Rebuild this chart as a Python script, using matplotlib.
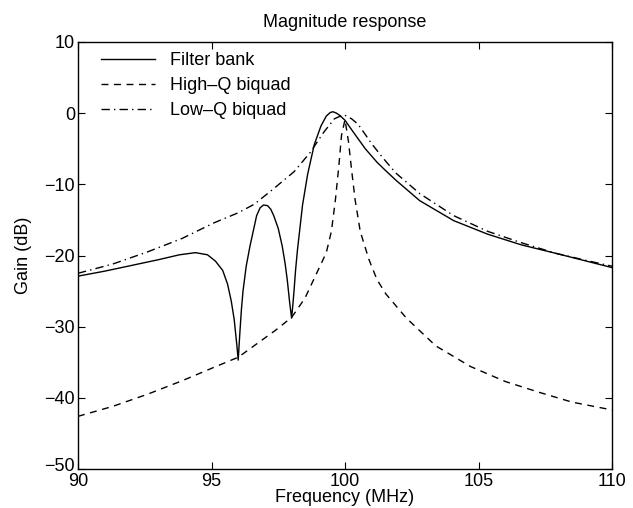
import matplotlib
matplotlib.use("Agg")
import matplotlib.pyplot as plt
import matplotlib.transforms as mtransforms

plt.rcParams['font.family'] = ['Liberation Sans', 'DejaVu Sans']

# Filter bank (solid)
fb_freq = [90.0, 91.0, 92.0, 93.0, 93.8, 94.4, 94.85, 95.15, 95.42, 95.6, 95.74, 95.85,
           95.95, 96.0, 96.06, 96.12, 96.18, 96.3, 96.44, 96.69, 96.82, 96.95, 97.1, 97.22,
           97.33, 97.5, 97.65, 97.76, 97.84, 97.93, 98.0, 98.05, 98.09, 98.15, 98.22, 98.41,
           98.6, 98.85, 99.1, 99.3, 99.45, 99.55, 99.68, 99.8, 100.0, 100.3, 100.76, 101.2,
           101.53, 101.9, 102.8, 104.07, 105.34, 106.6, 107.9, 109.16, 110.0]
fb_gain = [-22.9, -22.2, -21.4, -20.6, -19.9, -19.6, -19.9, -20.8, -22.1, -24.0, -26.4, -29.0,
           -32.6, -34.7, -31.0, -27.6, -25.0, -21.5, -18.7, -14.4, -13.3, -12.9, -13.0, -13.5,
           -14.4, -16.2, -18.7, -21.2, -23.5, -26.7, -28.8, -26.8, -25.0, -22.0, -19.2, -12.9,
           -8.6, -4.4, -1.8, -0.4, 0.1, 0.2, 0.0, -0.3, -1.0, -2.6, -5.0, -6.9,
           -8.1, -9.4, -12.3, -15.1, -17.0, -18.5, -19.7, -20.9, -21.7]

# High-Q biquad (dashed)
hq_freq = [90.0, 91.3, 92.6, 93.9, 95.1, 96.0, 96.7, 97.4, 98.0, 98.5, 99.05, 99.3,
           99.49, 99.64, 99.77, 99.87, 100.0, 100.13, 100.26, 100.38, 100.57, 100.89,
           101.2, 101.53, 102.3, 103.4, 104.7, 106.0, 107.25, 108.5, 110.0]
hq_gain = [-42.6, -41.2, -39.5, -37.6, -35.7, -34.3, -32.4, -30.5, -28.7, -26.0, -21.6, -19.6,
           -16.6, -12.2, -7.4, -3.1, -0.9, -4.0, -8.4, -12.2, -16.6, -20.5,
           -23.4, -25.4, -28.8, -32.7, -35.6, -37.7, -39.2, -40.6, -41.7]

# Low-Q biquad (dash-dot)
lq_freq = [90.0, 91.3, 92.6, 93.9, 95.1, 96.0, 96.6, 97.3, 98.1, 98.7, 99.2, 99.6,
           99.95, 100.25, 100.5, 100.76, 101.0, 101.4, 101.9, 102.8, 104.07, 105.34,
           106.6, 107.9, 109.16, 110.0]
lq_gain = [-22.5, -21.2, -19.5, -17.6, -15.4, -14.0, -12.8, -10.7, -8.2, -5.5, -2.7, -0.8,
           -0.2, -0.8, -1.6, -3.0, -4.3, -6.2, -8.4, -11.3, -14.4, -16.6,
           -18.2, -19.7, -20.8, -21.5]

labels = ['Filter bank', 'High\u2013Q biquad', 'Low\u2013Q biquad']
xticks = [90, 95, 100, 105, 110]
yticks = [-50, -40, -30, -20, -10, 0, 10]

fig = plt.figure(figsize=(6.33, 5.08), dpi=100)
ax = fig.add_axes([78/633, 1 - 469/508, (612-78)/633, (469-42)/508])

ax.plot(fb_freq, fb_gain, color='black', lw=1.0, ls='-', label=labels[0])
ax.plot(hq_freq, hq_gain, color='black', lw=1.0, ls=(0, (5, 4)), label=labels[1])
ax.plot(lq_freq, lq_gain, color='black', lw=1.0, ls=(0, (6, 3, 1, 3)), label=labels[2])

ax.set_xlim(90, 110)
ax.set_ylim(-50, 10)
ax.set_xticks(xticks)
ax.set_yticks(yticks)
ax.set_xticklabels([str(t) for t in xticks])
ax.set_yticklabels([str(t).replace('-', '\u2212') for t in yticks])
ax.tick_params(direction='in', top=True, right=True, length=5, width=0.8,
               labelsize=13, pad=2)
ax.tick_params(axis='x', pad=3)
for s in ax.spines.values():
    s.set_linewidth(1.0)

# nudge the bottom y label up a little so it does not sit on "90"
lbl = ax.get_yticklabels()[0]
lbl.set_transform(lbl.get_transform() + mtransforms.ScaledTranslation(0, 4/100, fig.dpi_scale_trans))

ax.set_title('Magnitude response', fontsize=13, pad=11)
ax.set_xlabel('Frequency (MHz)', fontsize=13, labelpad=-1)
ax.set_ylabel('Gain (dB)', fontsize=13, labelpad=9)

ax.legend(loc='upper left', bbox_to_anchor=(0.025, 1.0), frameon=False,
          fontsize=13, handlelength=3.0, handletextpad=0.8, labelspacing=0.45,
          borderaxespad=0.15)

fig.savefig('out.png', dpi=100)
